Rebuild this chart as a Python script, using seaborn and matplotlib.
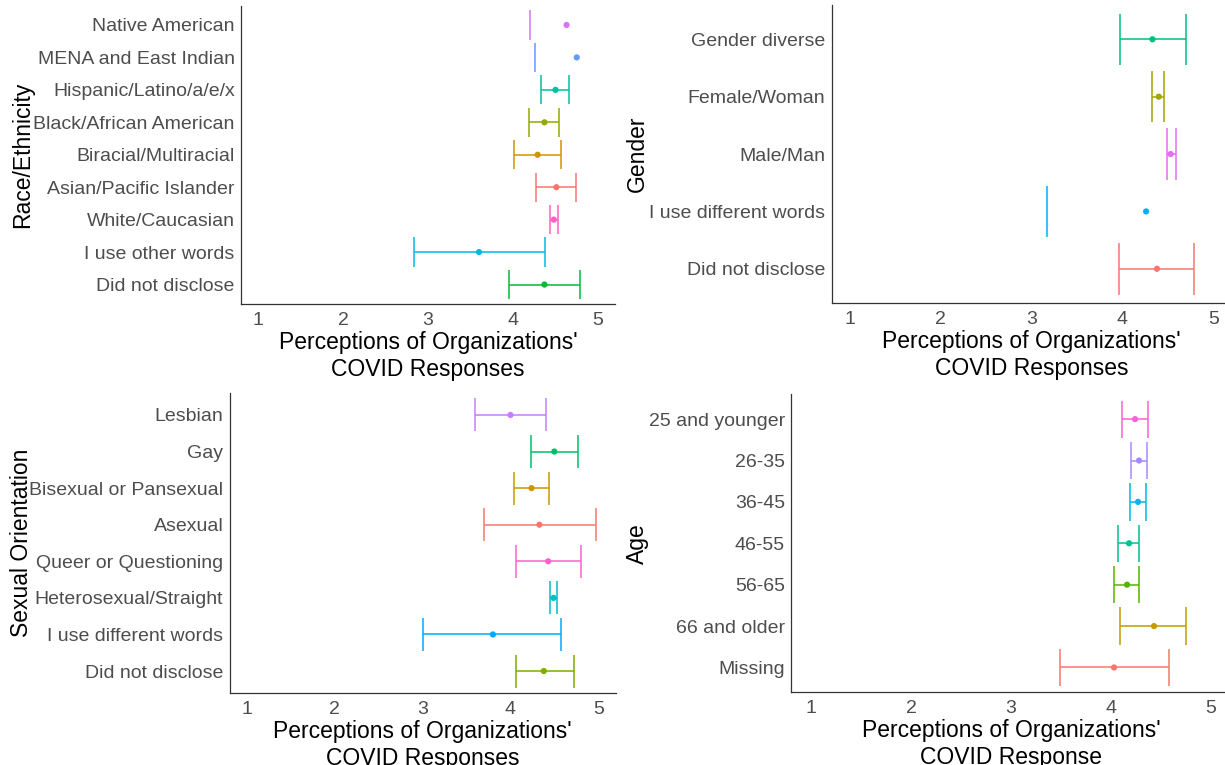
import numpy as np
import pandas as pd
import matplotlib
matplotlib.use("Agg")
import matplotlib.pyplot as plt
from matplotlib.transforms import blended_transform_factory
import seaborn as sns

nan = np.nan

# Race / ethnicity (listed top to bottom)
race_groups = ["Native American", "MENA and East Indian", "Hispanic/Latino/a/e/x",
               "Black/African American", "Biracial/Multiracial", "Asian/Pacific Islander",
               "White/Caucasian", "I use other words", "Did not disclose"]
race_mean = [4.63, 4.75, 4.50, 4.37, 4.29, 4.51, 4.48, 3.60, 4.37]
race_lower = [4.20, 4.26, 4.33, 4.19, 4.01, 4.27, 4.44, 2.83, 3.95]
race_upper = [nan, nan, 4.66, 4.54, 4.56, 4.74, 4.53, 4.38, 4.79]

# Gender
gender_groups = ["Gender diverse", "Female/Woman", "Male/Man",
                 "I use different words", "Did not disclose"]
gender_mean = [4.33, 4.40, 4.53, 4.26, 4.38]
gender_lower = [3.97, 4.33, 4.49, 3.17, 3.96]
gender_upper = [4.70, 4.46, 4.59, nan, 4.79]

# Sexual orientation
orient_groups = ["Lesbian", "Gay", "Bisexual or Pansexual", "Asexual",
                 "Queer or Questioning", "Heterosexual/Straight",
                 "I use different words", "Did not disclose"]
orient_mean = [4.00, 4.50, 4.24, 4.33, 4.43, 4.49, 3.80, 4.38]
orient_lower = [3.60, 4.23, 4.04, 3.70, 4.06, 4.45, 3.00, 4.06]
orient_upper = [4.40, 4.77, 4.44, 4.97, 4.80, 4.53, 4.58, 4.72]

# Age
age_groups = ["25 and younger", "26-35", "36-45", "46-55", "56-65",
              "66 and older", "Missing"]
age_mean = [4.24, 4.28, 4.27, 4.18, 4.16, 4.43, 4.03]
age_lower = [4.11, 4.20, 4.19, 4.07, 4.03, 4.09, 3.49]
age_upper = [4.37, 4.36, 4.35, 4.28, 4.28, 4.75, 4.58]

x_ticks = [1, 2, 3, 4, 5]

# Default ggplot-style hue palettes
hue5 = ["#F8766D", "#A3A500", "#00BF7D", "#00B0F6", "#E76BF3"]
hue7 = ["#F8766D", "#C49A00", "#53B400", "#00C094", "#00B6EB", "#A58AFF", "#FB61D7"]
hue8 = ["#F8766D", "#CD9600", "#7CAE00", "#00BE67", "#00BFC4", "#00A9FF", "#C77CFF", "#FF61CC"]
hue9 = ["#F8766D", "#D39200", "#93AA00", "#00BA38", "#00C19F", "#00B9E3", "#619CFF",
        "#DB72FB", "#FF61C3"]

sns.set_theme(style="white")
plt.rcParams["font.family"] = ["Liberation Sans", "DejaVu Sans"]

W, H = 1225, 765
fig = plt.figure(figsize=(W / 100, H / 100), dpi=100)
fig.patch.set_facecolor("white")

AXIS_COL = "#333333"
TICK_COL = "#4D4D4D"


def panel(box, groups, mean, lower, upper, hue_order, palette, ylabel, xlabel, ylab_px):
    left, top, right, bottom = box
    ax = fig.add_axes([left / W, 1 - bottom / H, (right - left) / W, (bottom - top) / H])
    n = len(groups)
    df = pd.DataFrame({"group": groups, "mean": mean, "lower": lower, "upper": upper})
    df["pos"] = np.arange(n)[::-1]
    colors = dict(zip(hue_order, palette))

    # interval bars with end caps; an open end draws no connecting line
    for _, r in df.iterrows():
        c = colors[r["group"]]
        if np.isfinite(r["lower"]) and np.isfinite(r["upper"]):
            ax.hlines(r["pos"], r["lower"], r["upper"], color=c, lw=1.1, zorder=2)
        for v in (r["lower"], r["upper"]):
            if np.isfinite(v):
                ax.vlines(v, r["pos"] - 0.45, r["pos"] + 0.45, color=c, lw=1.1, zorder=2)

    sns.scatterplot(data=df, x="mean", y="pos", hue="group", hue_order=hue_order,
                    palette=palette, s=20, linewidth=0, legend=False, ax=ax, zorder=3)

    ax.set_xlim(0.8, 5.2)
    ax.set_ylim(-0.6, n - 0.4)
    ax.set_xticks(x_ticks)
    ax.set_xticklabels([str(t) for t in x_ticks])
    ax.set_yticks(df["pos"])
    ax.set_yticklabels(df["group"])
    sns.despine(ax=ax)
    for s in ("left", "bottom"):
        ax.spines[s].set_color(AXIS_COL)
        ax.spines[s].set_linewidth(0.9)
    ax.tick_params(axis="both", length=3, width=0.9, color=AXIS_COL,
                   labelsize=14, labelcolor=TICK_COL)
    ax.tick_params(axis="y", pad=1.5)
    ax.tick_params(axis="x", pad=2.5)

    ax.set_ylabel(ylabel, fontsize=16.5, color="black")
    ax.yaxis.set_label_coords(ylab_px / W, 0.5,
                              transform=blended_transform_factory(fig.transFigure, ax.transAxes))
    ax.yaxis.label.set_va("center")

    ax.set_xlabel(xlabel, fontsize=16.5, color="black", linespacing=1.22)
    ax.xaxis.set_label_coords(0.5, 1 - (bottom + 27) / H,
                              transform=blended_transform_factory(ax.transAxes, fig.transFigure))
    ax.xaxis.label.set_va("top")
    return ax


panel((241, 5.5, 615, 304), race_groups, race_mean, race_lower, race_upper,
      sorted(race_groups), hue9, "Race/Ethnicity",
      "Perceptions of Organizations'\nCOVID Responses", 23)
panel((831.7, 4.9, 1231.5, 303.2), gender_groups, gender_mean, gender_lower, gender_upper,
      sorted(gender_groups), hue5, "Gender",
      "Perceptions of Organizations'\nCOVID Responses", 637)
panel((229.5, 393, 615.8, 693), orient_groups, orient_mean, orient_lower, orient_upper,
      sorted(orient_groups), hue8, "Sexual Orientation",
      "Perceptions of Organizations'\nCOVID Responses", 22)
panel((791.2, 394.3, 1231, 692.3), age_groups, age_mean, age_lower, age_upper,
      list(reversed(age_groups)), hue7, "Age",
      "Perceptions of Organizations'\nCOVID Response", 637)

fig.savefig("out.png", dpi=100, facecolor="white")
